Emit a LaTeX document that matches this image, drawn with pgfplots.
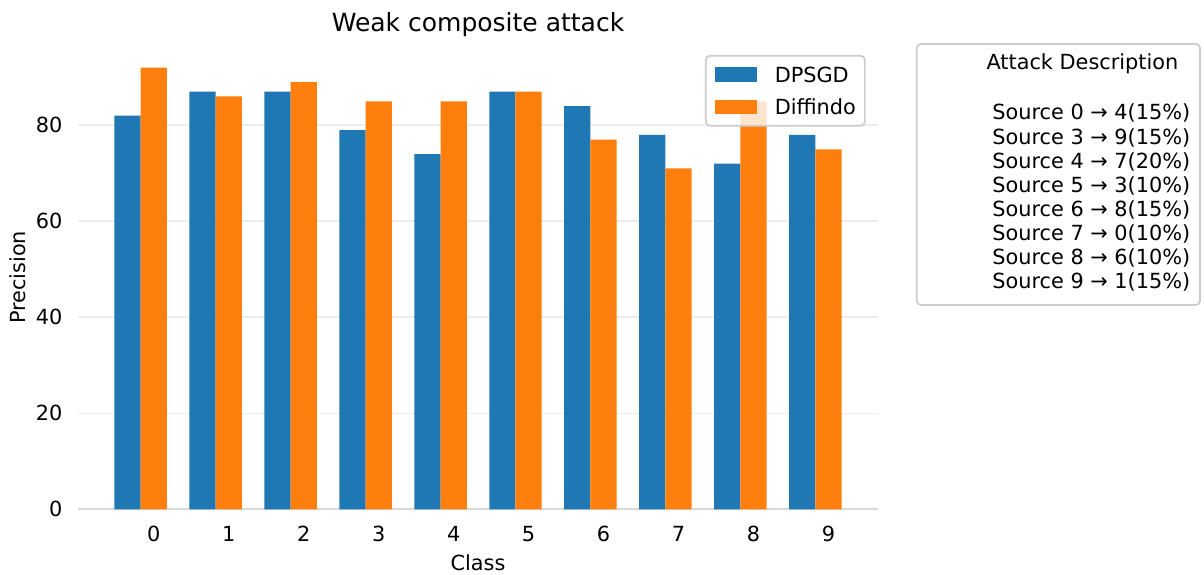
\documentclass[border=0pt]{standalone}
\usepackage{fontspec}
\setmainfont{DejaVu Sans}
\usepackage{pgfplots}
\pgfplotsset{compat=1.18}
\usepackage{pgfplotstable}
\definecolor{mplblue}{HTML}{1F77B4}
\definecolor{mplorange}{HTML}{FF7F0E}
\pgfplotsset{mylegend/.style={legend image code/.code={\fill[##1, sharp corners, fill opacity=1, draw=none] (0pt,-3.4pt) rectangle (20.2pt,3.4pt);}}}
\pgfplotstableread{
class dpsgd diffindo
0 82 92
1 87 86
2 87 89
3 79 85
4 74 85
5 87 87
6 84 77
7 78 71
8 72 85
9 78 75
}\datatable
\begin{document}
\begin{tikzpicture}
\begin{axis}[
  scale only axis, width=384pt, height=222.6pt,
  clip=false,
  xmin=-0.66, xmax=10.01, ymin=0, ymax=96.6,
  axis x line*=bottom, axis y line*=left,
  x axis line style={-, draw=black!15, line width=1pt},
  y axis line style={draw=none},
  major tick length=0pt,
  ytick={0,20,40,60,80},
  xtick={0.35,1.35,2.35,3.35,4.35,5.35,6.35,7.35,8.35,9.35},
  xticklabels={0,1,2,3,4,5,6,7,8,9},
  ymajorgrids, grid style={black!7, line width=0.8pt},
  /pgf/number format/assume math mode=true,
  tick label style={font=\fontsize{10}{12}\selectfont},
  xticklabel style={anchor=base, inner sep=0pt, yshift=-15.5pt},
  yticklabel style={anchor=east, inner sep=0pt, xshift=-7.3pt},
  title={Weak composite attack},
  every axis title/.style={at={(axis description cs:0.5,1.030)}, anchor=base, inner sep=0pt, font=\fontsize{12}{14}\selectfont},
  xlabel={Class}, ylabel={Precision},
  xlabel style={at={(axis description cs:0.5,-0.1309)}, anchor=base, inner sep=0pt, font=\fontsize{10}{12}\selectfont},
  ylabel style={at={(axis description cs:-0.0662,0.5)}, anchor=base, inner sep=0pt, font=\fontsize{10}{12}\selectfont},
  legend cell align=left,
  legend style={at={(axis description cs:0.9846,0.9797)}, anchor=north east,
    draw=black!20, line width=0.8pt, rounded corners=2pt, fill=white, fill opacity=0.8, text opacity=1,
    font=\fontsize{10}{12}\selectfont, inner xsep=4.3pt, inner ysep=5.3pt, row sep=8.4pt,
    nodes={inner sep=0pt, text height=7.3pt, text depth=0pt},
    /tikz/every odd column/.append style={column sep=8.6pt}},
]
\addplot[ybar, bar width=0.35, bar shift=0, fill=mplblue, draw=none, mylegend] table[x=class, y=dpsgd] {\datatable};
\addplot[ybar, bar width=0.35, bar shift=0.35, fill=mplorange, draw=none, mylegend] table[x=class, y=diffindo] {\datatable};
\legend{DPSGD, Diffindo}
% description box
\draw[black!20, line width=0.8pt, rounded corners=2pt, fill=white] (axis description cs:1.0484,1.0035) rectangle (axis description cs:1.4025,0.4406);
\begin{scope}[every node/.style={anchor=base east, inner sep=0pt, font=\fontsize{10}{12}\selectfont}]
\node at (axis description cs:1.3759,0.9485) {Attack Description};
\node at (axis description cs:1.3909,0.8396) {Source 0 → 4(15\%)};
\node at (axis description cs:1.3909,0.7876) {Source 3 → 9(15\%)};
\node at (axis description cs:1.3909,0.7357) {Source 4 → 7(20\%)};
\node at (axis description cs:1.3909,0.6837) {Source 5 → 3(10\%)};
\node at (axis description cs:1.3909,0.6317) {Source 6 → 8(15\%)};
\node at (axis description cs:1.3909,0.5798) {Source 7 → 0(10\%)};
\node at (axis description cs:1.3909,0.5278) {Source 8 → 6(10\%)};
\node at (axis description cs:1.3909,0.4758) {Source 9 → 1(15\%)};
\end{scope}
\path (axis description cs:-0.0975,-0.1395) rectangle (axis description cs:1.4075,1.0983);
\end{axis}
\end{tikzpicture}
\end{document}
